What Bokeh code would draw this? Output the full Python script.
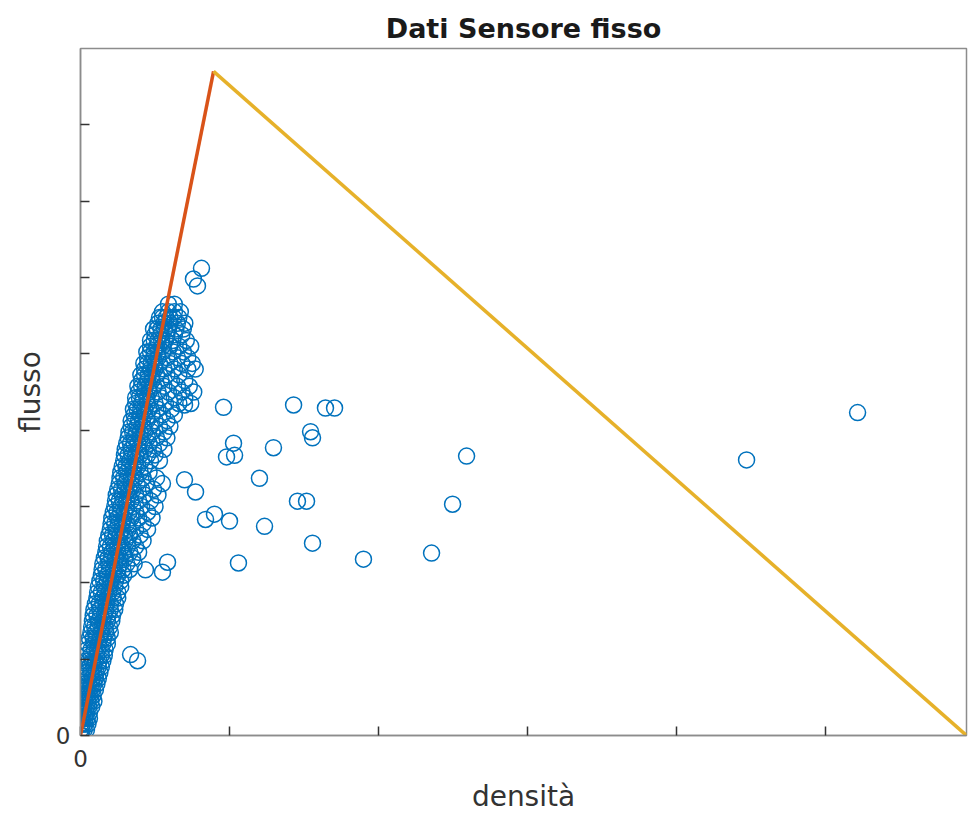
from bokeh.plotting import figure
from bokeh.models import FixedTicker, Range1d
from bokeh.embed import file_html
from bokeh.resources import INLINE

# ---- data (axis tick units; tick labels in the original are unreadable) ----
x_ticks = [0, 1, 2, 3, 4, 5]
y_ticks = [0, 1, 2, 3, 4, 5, 6, 7, 8]

# fundamental diagram (triangular): origin -> critical point -> jam density
fd_free_x = [0.0, 0.893]
fd_free_y = [0.0, 8.70]
fd_cong_x = [0.893, 5.946]
fd_cong_y = [8.70, 0.0]

# dense cloud of measurements: flow levels and densities read at each level
cloud_levels = [0.0, 0.15, 0.3, 0.45, 0.6, 0.75, 0.9, 1.05, 1.2, 1.35, 1.5, 1.65,
                1.8, 1.95, 2.1, 2.25, 2.4, 2.55, 2.7, 2.85, 3.0, 3.15, 3.3, 3.45,
                3.6, 3.75, 3.9, 4.05, 4.2, 4.35, 4.5, 4.65, 4.8, 4.95, 5.1, 5.25,
                5.4, 5.55, 5.65]
cloud_density = [
    [0.0, 0.005, 0.01],
    [0.0, 0.015, 0.03, 0.05],
    [0.0, 0.02, 0.04, 0.06],
    [0.01, 0.03, 0.05, 0.07, 0.09],
    [0.02, 0.04, 0.06, 0.08, 0.10],
    [0.02, 0.05, 0.08, 0.10, 0.12],
    [0.03, 0.06, 0.09, 0.12, 0.14],
    [0.04, 0.07, 0.11, 0.14, 0.16],
    [0.05, 0.09, 0.12, 0.15, 0.18],
    [0.07, 0.10, 0.14, 0.17, 0.20],
    [0.08, 0.12, 0.15, 0.18, 0.21],
    [0.09, 0.13, 0.17, 0.20, 0.23],
    [0.11, 0.15, 0.18, 0.22, 0.25],
    [0.12, 0.16, 0.20, 0.23, 0.27],
    [0.14, 0.18, 0.22, 0.25, 0.29],
    [0.15, 0.19, 0.23, 0.27, 0.31, 0.36],
    [0.17, 0.21, 0.25, 0.29, 0.33, 0.39],
    [0.18, 0.22, 0.26, 0.30, 0.35, 0.42],
    [0.20, 0.24, 0.28, 0.32, 0.37, 0.45],
    [0.21, 0.25, 0.29, 0.34, 0.39, 0.48],
    [0.23, 0.27, 0.31, 0.35, 0.41, 0.50],
    [0.24, 0.28, 0.32, 0.37, 0.43, 0.52],
    [0.26, 0.30, 0.34, 0.38, 0.44, 0.55],
    [0.27, 0.31, 0.35, 0.40, 0.46],
    [0.29, 0.33, 0.37, 0.41, 0.47, 0.53],
    [0.30, 0.34, 0.39, 0.43, 0.49, 0.56],
    [0.32, 0.36, 0.40, 0.45, 0.51, 0.58],
    [0.34, 0.38, 0.42, 0.47, 0.53, 0.60],
    [0.36, 0.40, 0.43, 0.48, 0.55, 0.63],
    [0.37, 0.41, 0.45, 0.50, 0.57, 0.66, 0.74],
    [0.39, 0.43, 0.46, 0.52, 0.59, 0.68, 0.76],
    [0.41, 0.45, 0.48, 0.54, 0.61, 0.70],
    [0.43, 0.47, 0.50, 0.56, 0.63, 0.72, 0.77],
    [0.45, 0.49, 0.52, 0.58, 0.65, 0.72],
    [0.47, 0.51, 0.55, 0.60, 0.66, 0.74],
    [0.50, 0.54, 0.58, 0.63, 0.68],
    [0.52, 0.56, 0.60, 0.65, 0.70],
    [0.55, 0.59, 0.63, 0.67],
    [0.59, 0.63],
]

# second pass of the cloud at intermediate flow levels
cloud_levels_b = [0.075, 0.225, 0.375, 0.525, 0.675, 0.825, 0.975, 1.125, 1.275,
                  1.425, 1.575, 1.725, 1.875, 2.025, 2.175, 2.325, 2.475, 2.625,
                  2.775, 2.925, 3.075, 3.225, 3.375, 3.525, 3.675, 3.825, 3.975,
                  4.125, 4.275, 4.425, 4.575, 4.725, 4.875, 5.025, 5.175, 5.325,
                  5.475]
cloud_density_b = [
    [0.0, 0.01, 0.025, 0.04],
    [0.0, 0.01, 0.03, 0.045, 0.06],
    [0.005, 0.02, 0.04, 0.055, 0.075],
    [0.01, 0.03, 0.045, 0.065, 0.085],
    [0.02, 0.035, 0.055, 0.075, 0.09, 0.11],
    [0.03, 0.045, 0.07, 0.09, 0.105, 0.13],
    [0.035, 0.055, 0.08, 0.10, 0.125, 0.15],
    [0.045, 0.07, 0.095, 0.115, 0.14, 0.165],
    [0.06, 0.085, 0.105, 0.13, 0.155, 0.18],
    [0.075, 0.095, 0.12, 0.145, 0.165, 0.195],
    [0.085, 0.11, 0.135, 0.16, 0.185, 0.215],
    [0.10, 0.125, 0.15, 0.175, 0.20, 0.235],
    [0.115, 0.14, 0.165, 0.19, 0.215, 0.25],
    [0.13, 0.155, 0.18, 0.205, 0.235, 0.27],
    [0.145, 0.17, 0.195, 0.22, 0.25, 0.285, 0.33],
    [0.16, 0.185, 0.21, 0.235, 0.265, 0.30, 0.35],
    [0.175, 0.20, 0.225, 0.25, 0.28, 0.315, 0.37],
    [0.19, 0.215, 0.24, 0.265, 0.295, 0.33, 0.40],
    [0.205, 0.23, 0.255, 0.28, 0.31, 0.35, 0.42],
    [0.22, 0.245, 0.27, 0.295, 0.325, 0.37, 0.45],
    [0.235, 0.26, 0.285, 0.31, 0.34, 0.39, 0.47],
    [0.25, 0.275, 0.30, 0.325, 0.355, 0.41, 0.49],
    [0.265, 0.29, 0.315, 0.34, 0.37, 0.42, 0.51],
    [0.28, 0.305, 0.33, 0.355, 0.385, 0.43],
    [0.295, 0.32, 0.345, 0.37, 0.40, 0.45, 0.50],
    [0.31, 0.335, 0.36, 0.385, 0.415, 0.46, 0.53],
    [0.325, 0.35, 0.375, 0.40, 0.43, 0.48, 0.56],
    [0.34, 0.365, 0.39, 0.415, 0.445, 0.50, 0.58],
    [0.355, 0.38, 0.405, 0.43, 0.46, 0.52, 0.61],
    [0.37, 0.395, 0.42, 0.445, 0.475, 0.54, 0.63, 0.70],
    [0.385, 0.41, 0.435, 0.46, 0.49, 0.56, 0.65, 0.73],
    [0.405, 0.43, 0.455, 0.48, 0.51, 0.58, 0.66],
    [0.425, 0.45, 0.475, 0.50, 0.53, 0.60, 0.68, 0.75],
    [0.445, 0.47, 0.495, 0.52, 0.55, 0.62, 0.69],
    [0.47, 0.495, 0.52, 0.545, 0.57, 0.62, 0.71],
    [0.49, 0.515, 0.54, 0.565, 0.59, 0.64, 0.69],
    [0.53, 0.55, 0.575, 0.60, 0.625, 0.66],
]

# scattered measurements outside the cloud
out_density = [0.812, 0.758, 0.785, 0.698, 0.960, 1.430, 1.644, 1.705, 1.544, 1.557,
               1.027, 1.034, 0.980, 1.295, 2.591, 1.201, 0.698, 0.772, 1.456, 1.517,
               2.497, 0.899, 0.839, 1.000, 1.235, 1.557, 1.060, 1.899, 2.356, 4.470,
               5.215, 0.336, 0.383, 0.584, 0.550, 0.436]
out_flow = [6.12, 5.98, 5.89, 4.33, 4.30, 4.33, 4.29, 4.29, 3.98, 3.90,
            3.83, 3.67, 3.65, 3.77, 3.66, 3.37, 3.35, 3.19, 3.07, 3.07,
            3.03, 2.90, 2.83, 2.81, 2.74, 2.52, 2.26, 2.31, 2.39, 3.61,
            4.23, 1.06, 0.98, 2.27, 2.14, 2.17]

density = []
flow = []
for levels, rows in ((cloud_levels, cloud_density), (cloud_levels_b, cloud_density_b)):
    for lvl, xs in zip(levels, rows):
        for xv in xs:
            density.append(xv)
            flow.append(lvl)
density += out_density
flow += out_flow

FONT = "DejaVu Sans"

p = figure(width=968, height=815, output_backend="svg", toolbar_location=None,
           x_range=Range1d(0, 5.946), y_range=Range1d(0, 9.0),
           title="Dati Sensore fisso",
           min_border_left=80, min_border_right=2, min_border_top=48,
           min_border_bottom=10)

p.title.align = "center"
p.title.text_font = FONT
p.title.text_font_size = "27px"
p.title.text_font_style = "bold"
p.title.text_color = "#1a1a1a"

p.xgrid.visible = False
p.ygrid.visible = False
p.outline_line_color = "#8c8c8c"
p.outline_line_width = 1.5
p.background_fill_color = "white"
p.border_fill_color = "white"

def style_axis(ax, ticks):
    ax.ticker = FixedTicker(ticks=ticks)
    ax.major_label_overrides = {t: ("0" if t == 0 else "") for t in ticks}
    ax.major_tick_in = 9
    ax.major_tick_out = 0
    ax.minor_tick_line_color = None
    ax.axis_line_color = "#8c8c8c"
    ax.axis_line_width = 1.5
    ax.major_tick_line_color = "#333333"
    ax.major_tick_line_width = 1.5
    ax.major_label_text_font = FONT
    ax.major_label_text_font_size = "23px"
    ax.major_label_text_color = "#333333"
    ax.axis_label_text_font = FONT
    ax.axis_label_text_font_size = "28px"
    ax.axis_label_text_font_style = "normal"
    ax.axis_label_text_color = "#333333"

style_axis(p.xaxis[0], x_ticks)
style_axis(p.yaxis[0], y_ticks)
p.xaxis.axis_label = "densità"
p.yaxis.axis_label = "flusso"
p.xaxis.major_label_standoff = 14
p.xaxis.axis_label_standoff = 10
p.yaxis.major_label_standoff = 10
p.yaxis.axis_label_standoff = 6

p.scatter(density, flow, marker="circle", size=16, fill_color=None,
          line_color="#0072BD", line_width=1.5)

p.line(fd_free_x, fd_free_y, line_color="#D95319", line_width=3.5)
p.line(fd_cong_x, fd_cong_y, line_color="#E6B12A", line_width=3.5)

open("out.html", "w").write(file_html(p, INLINE))
